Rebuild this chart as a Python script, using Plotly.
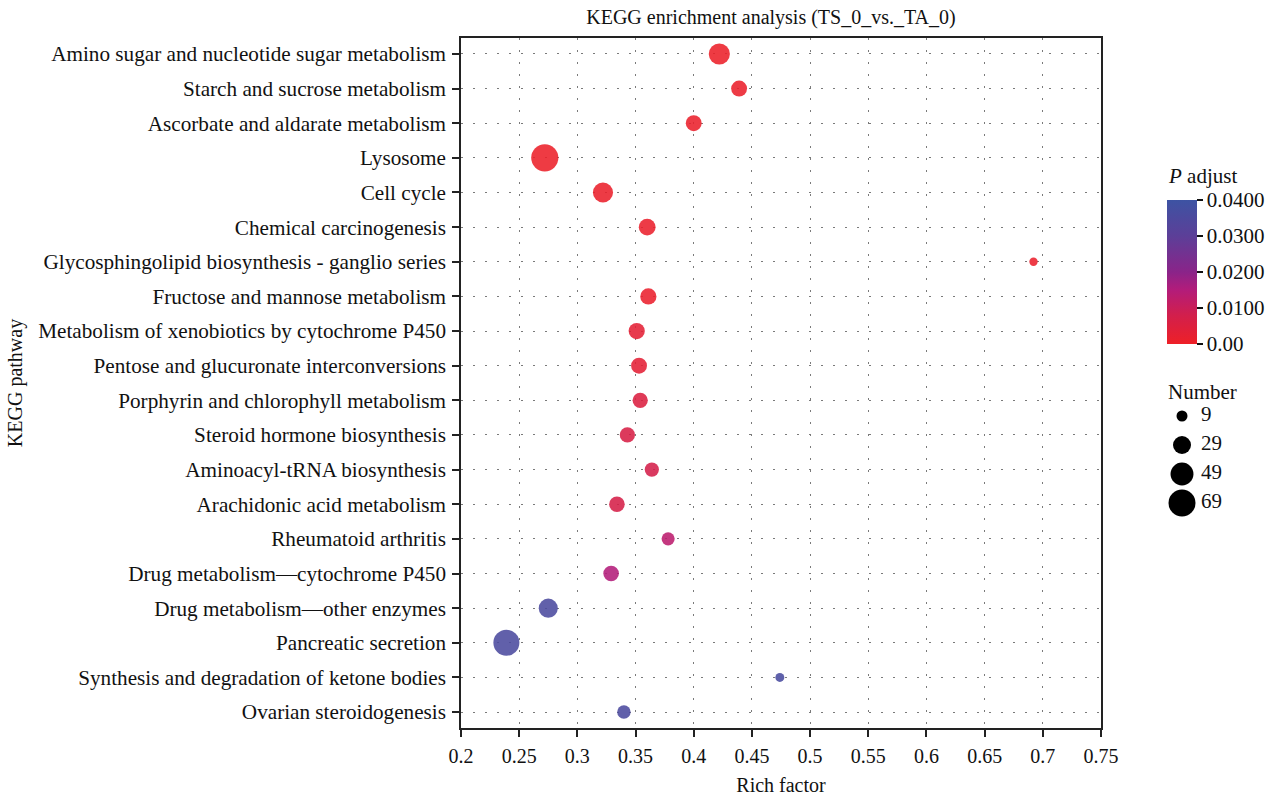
import plotly.graph_objects as go
import numpy as np

# ---------------- data ----------------
pathways = [
    "Amino sugar and nucleotide sugar metabolism",
    "Starch and sucrose metabolism",
    "Ascorbate and aldarate metabolism",
    "Lysosome",
    "Cell cycle",
    "Chemical carcinogenesis",
    "Glycosphingolipid biosynthesis - ganglio series",
    "Fructose and mannose metabolism",
    "Metabolism of xenobiotics by cytochrome P450",
    "Pentose and glucuronate interconversions",
    "Porphyrin and chlorophyll metabolism",
    "Steroid hormone biosynthesis",
    "Aminoacyl-tRNA biosynthesis",
    "Arachidonic acid metabolism",
    "Rheumatoid arthritis",
    "Drug metabolism\u2014cytochrome P450",
    "Drug metabolism\u2014other enzymes",
    "Pancreatic secretion",
    "Synthesis and degradation of ketone bodies",
    "Ovarian steroidogenesis",
]
rich_factor = [0.422, 0.439, 0.400, 0.272, 0.322, 0.360, 0.692, 0.361, 0.351, 0.353,
               0.354, 0.343, 0.364, 0.334, 0.378, 0.329, 0.275, 0.239, 0.474, 0.340]
gene_number = [41, 22, 22, 70, 37, 25, 4, 23, 23, 22,
               20, 20, 17, 21, 14, 21, 33, 64, 5, 15]
p_adjust = [0.0005, 0.0008, 0.0008, 0.0005, 0.0008, 0.0010, 0.0010, 0.0012, 0.0030, 0.0030,
            0.0055, 0.0065, 0.0075, 0.0072, 0.0130, 0.0150, 0.0355, 0.0355, 0.0360, 0.0355]

x_tick_vals = [0.2, 0.25, 0.3, 0.35, 0.4, 0.45, 0.5, 0.55, 0.6, 0.65, 0.7, 0.75]
x_tick_text = ["0.2", "0.25", "0.3", "0.35", "0.4", "0.45", "0.5", "0.55", "0.6", "0.65", "0.7", "0.75"]
cbar_tick_vals = [0.0, 0.01, 0.02, 0.03, 0.04]
cbar_tick_text = ["0.00", "0.0100", "0.0200", "0.0300", "0.0400"]
size_legend_vals = [9, 29, 49, 69]

# ---------------- styling / scales ----------------
FONT = "Liberation Serif"
TXT = "#111111"
colorscale = [[0.0, "#ee2027"], [0.2, "#d21f4c"], [0.375, "#b31c7a"], [0.5, "#8a2489"],
              [0.75, "#5c3f98"], [1.0, "#3d53a3"]]


def size_scale(n):
    # area-proportional size scale (pixels of diameter)
    return np.sqrt(10.13 * (np.asarray(n, dtype=float) + 2.94))


W, H = 1283, 797
L, R, T, B = 461, 10, 38, 69
plot_w = 640
paper_w = W - L - R
paper_h = H - T - B


def px_x(px):
    return (px - L) / paper_w


def px_y(py):
    return (H - B - py) / paper_h


fig = go.Figure()

fig.add_trace(go.Scatter(
    x=rich_factor, y=pathways, mode="markers",
    marker=dict(size=size_scale(gene_number), sizemode="diameter",
                color=p_adjust, coloraxis="coloraxis", opacity=0.88,
                line=dict(width=0)),
    showlegend=False, hoverinfo="skip",
))

# size legend drawn on an auxiliary axis (pixel units)
leg_d = size_scale(size_legend_vals)
LEG_TOP, LEG_PITCH = 416.0, 29.0
leg_y = [LEG_TOP + LEG_PITCH * i for i in range(len(size_legend_vals))]
fig.add_trace(go.Scatter(
    x=[22] * len(size_legend_vals), y=leg_y, mode="markers",
    marker=dict(size=leg_d, sizemode="diameter", color="#000000", opacity=1,
                line=dict(width=0)),
    xaxis="x2", yaxis="y2", showlegend=False, hoverinfo="skip",
))
fig.add_trace(go.Scatter(
    x=[41] * len(size_legend_vals), y=leg_y, mode="text",
    text=[str(v) for v in size_legend_vals], textposition="middle right",
    textfont=dict(family=FONT, size=21, color=TXT),
    xaxis="x2", yaxis="y2", showlegend=False, hoverinfo="skip",
))

axis_common = dict(showline=True, linecolor="#222222", linewidth=1.5, mirror=True,
                   ticks="outside", ticklen=7, tickwidth=1.5, tickcolor="#222222",
                   showgrid=True, gridcolor="#7a7a7a", gridwidth=1, griddash="2px,10px",
                   zeroline=False, automargin=False)

fig.update_layout(
    width=W, height=H, autosize=False,
    margin=dict(l=L, r=R, t=T, b=B, pad=0, autoexpand=False),
    paper_bgcolor="white", plot_bgcolor="white",
    font=dict(family=FONT, color=TXT),
    title=dict(text="KEGG enrichment analysis (TS_0_vs._TA_0)",
               x=px_x(771), xref="paper", xanchor="center",
               y=1 - 17 / H, yref="container", yanchor="middle",
               font=dict(family=FONT, size=20, color=TXT)),
    xaxis=dict(domain=[0, plot_w / paper_w], range=[0.2, 0.75],
               tickmode="array", tickvals=x_tick_vals, ticktext=x_tick_text,
               tickfont=dict(family=FONT, size=20, color=TXT), ticklabelstandoff=2,
               title=dict(text="Rich factor", font=dict(family=FONT, size=20), standoff=12),
               **axis_common),
    yaxis=dict(type="category", categoryorder="array", categoryarray=pathways,
               range=[len(pathways) - 0.54, -0.46],
               tickfont=dict(family=FONT, size=21.2, color=TXT), ticklabelstandoff=2,
               title=dict(text="KEGG pathway", font=dict(family=FONT, size=20), standoff=10),
               **axis_common),
    xaxis2=dict(domain=[px_x(1160), px_x(1270)], range=[0, 110], visible=False,
                anchor="y2", fixedrange=True),
    yaxis2=dict(domain=[0, 1], range=[H - B, T], visible=False, anchor="x2",
                fixedrange=True),
    coloraxis=dict(
        cmin=0, cmax=0.04, colorscale=colorscale,
        colorbar=dict(
            x=px_x(1167), xanchor="left", xpad=0,
            y=px_y(344), yanchor="bottom", ypad=0,
            len=144, lenmode="pixels", thickness=30, thicknessmode="pixels",
            outlinewidth=0,
            ticks="outside", ticklen=6, tickwidth=2, tickcolor=TXT,
            tickmode="array", tickvals=cbar_tick_vals, ticktext=cbar_tick_text,
            tickfont=dict(family=FONT, size=21, color=TXT),
        ),
    ),
    annotations=[
        dict(text="<i>P</i> adjust", x=px_x(1166), xref="paper", xanchor="left",
             y=px_y(176), yref="paper", yanchor="middle", showarrow=False,
             font=dict(family=FONT, size=21, color=TXT)),
        dict(text="Number", x=px_x(1166), xref="paper", xanchor="left",
             y=px_y(392), yref="paper", yanchor="middle", showarrow=False,
             font=dict(family=FONT, size=21, color=TXT)),
    ],
    hovermode=False,
)

fig.write_html("out.html", config={"displayModeBar": False},
               post_script="document.body.style.margin='0';document.body.style.overflow='hidden';")
